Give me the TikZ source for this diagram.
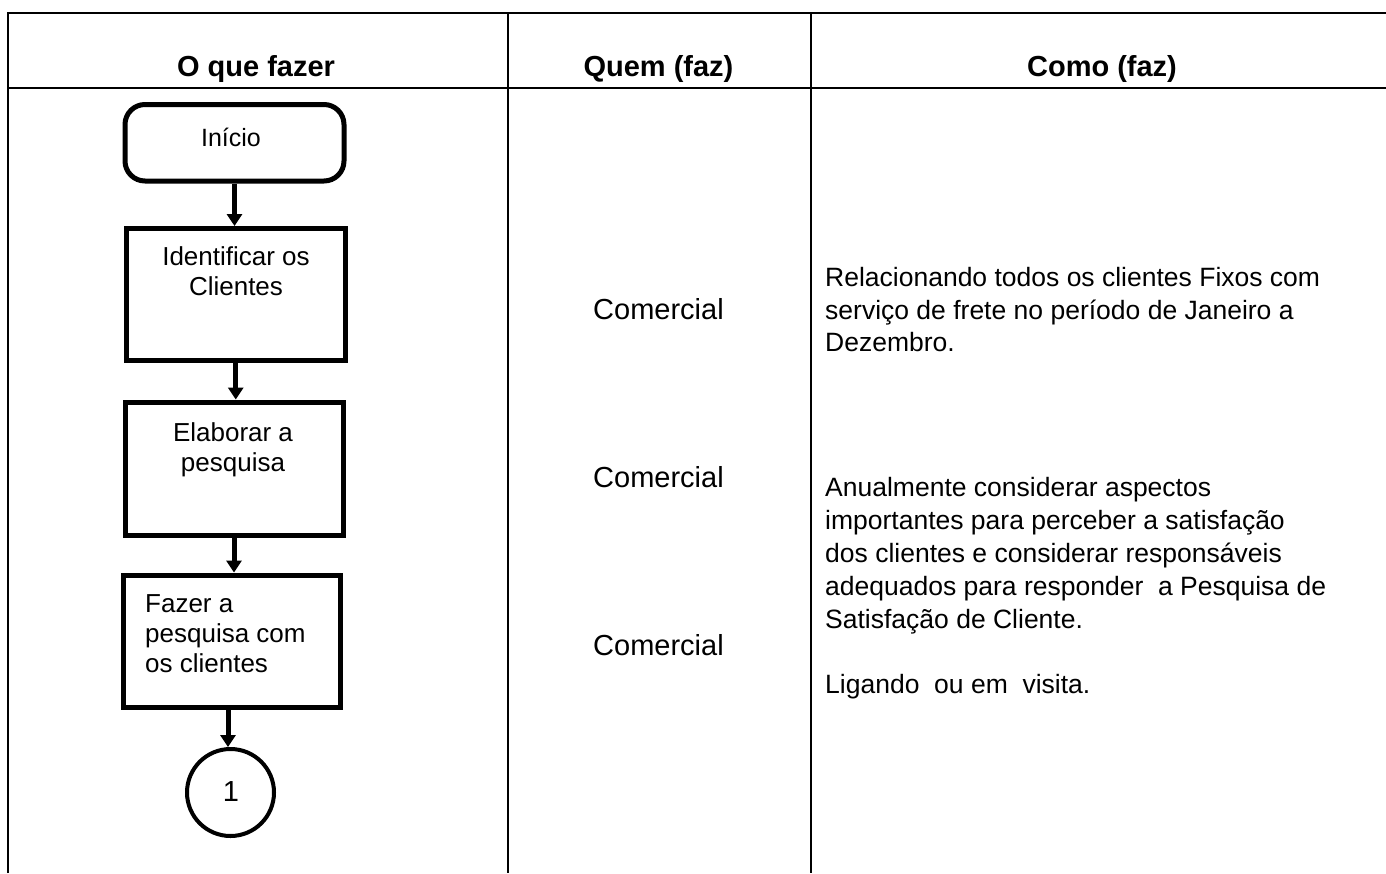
\documentclass[tikz,border=0pt]{standalone}
\usepackage{fontspec}
\setmainfont{Liberation Sans}
\usetikzlibrary{arrows.meta}
\begin{document}
\begin{tikzpicture}[x=1pt,y=-1pt,
  tline/.style={line width=2pt},
  hdr/.style={font=\fontsize{29}{33}\selectfont\bfseries, anchor=base, inner sep=0pt},
  btxt/.style={font=\fontsize{26}{30}\selectfont, anchor=base, inner sep=0pt},
  btxtl/.style={font=\fontsize{26}{30}\selectfont, anchor=base west, inner sep=0pt},
  who/.style={font=\fontsize{29}{33}\selectfont, anchor=base, inner sep=0pt},
  how/.style={font=\fontsize{26.5}{32}\selectfont, anchor=base west, inner sep=0pt},
  stepbox/.style={draw, line width=5pt, inner sep=0pt},
  flow/.style={line width=5pt, -{Triangle[width=15pt,length=12pt]}}
]
\useasboundingbox (0,0) rectangle (1386,873);
% table
\draw[tline] (7.5,873) -- (7.5,12.5) -- (1386,12.5);
\draw[tline] (7.5,87.5) -- (1386,87.5);
\draw[tline] (508,12.5) -- (508,873);
\draw[tline] (811,12.5) -- (811,873);
% headers
\node[hdr] (h1) at (256,76) {O que fazer};
\node[hdr] (h2) at (658.5,76) {Quem (faz)};
\node[hdr] (h3) at (1102,76) {Como (faz)};
% flow boxes
\node[stepbox, rounded corners=20pt, minimum width=219pt, minimum height=76.5pt] (inicio) at (234.5,142.75) {};
\node[stepbox, minimum width=218.5pt, minimum height=131.5pt] (ident) at (235.75,294.25) {};
\node[stepbox, minimum width=218pt, minimum height=133pt] (elab) at (234,468.5) {};
\node[stepbox, minimum width=217pt, minimum height=132pt] (fazer) at (231.5,641) {};
\node[draw, circle, line width=4pt, minimum size=87pt, inner sep=0pt] (c1) at (230.5,792.5) {};
% box texts
\node[font=\fontsize{25}{29}\selectfont, anchor=base, inner sep=0pt] (tinicio) at (231,146) {Início};
\node[btxt] (tid1) at (236,265) {Identificar os};
\node[btxt] (tid2) at (236,295) {Clientes};
\node[btxt] (tel1) at (233,441) {Elaborar a};
\node[btxt] (tel2) at (233,471) {pesquisa};
\node[btxtl] (tfa1) at (145,612) {Fazer a};
\node[btxtl] (tfa2) at (145,642) {pesquisa com};
\node[btxtl] (tfa3) at (145,672) {os clientes};
\node[font=\fontsize{29}{33}\selectfont, anchor=base, inner sep=0pt] (tc1) at (231,801) {1};
% arrows
\draw[flow] (inicio.south) -- (inicio.south |- ident.north);
\draw[flow] (ident.south) -- (ident.south |- elab.north);
\draw[flow] (elab.south) -- (elab.south |- fazer.north);
\draw[flow] ([xshift=-3.5pt]fazer.south) -- ([xshift=-3.5pt]fazer.south |- c1.north);
% who
\node[who] (w1) at (658.5,319) {Comercial};
\node[who] (w2) at (658.5,487) {Comercial};
\node[who] (w3) at (658.5,655) {Comercial};
% how
\node[how] (r1) at (825,286) {Relacionando todos os clientes Fixos com};
\node[how] (r2) at (825,319) {serviço de frete no período de Janeiro a};
\node[how] (r3) at (825,351) {Dezembro.};
\node[how] (r4) at (825,496) {Anualmente considerar aspectos};
\node[how] (r5) at (825,529) {importantes para perceber a satisfação};
\node[how] (r6) at (825,562) {dos clientes e considerar responsáveis};
\node[how] (r7) at (825,595) {adequados para responder\ \ a Pesquisa de};
\node[how] (r8) at (825,628) {Satisfação de Cliente.};
\node[how] (r9) at (825,693) {Ligando\ \ ou em\ \ visita.};
\end{tikzpicture}
\end{document}
